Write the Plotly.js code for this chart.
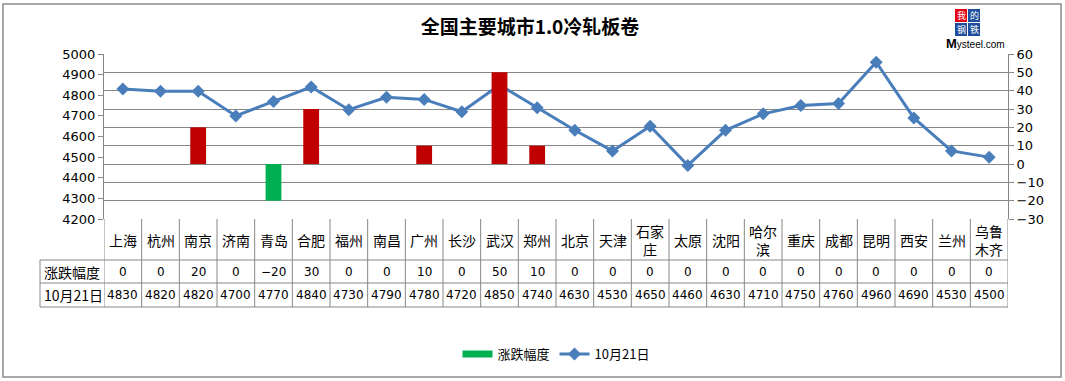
<!DOCTYPE html>
<html><head><meta charset="utf-8">
<script src="https://cdn.plot.ly/plotly-3.0.1.min.js"></script>
<style>html,body{margin:0;padding:0;background:#fff;}#chart{width:1065px;height:381px;}</style>
</head><body><div id="chart"></div>
<script>
const cities = ["上海","杭州","南京","济南","青岛","合肥","福州","南昌","广州","长沙","武汉","郑州","北京","天津","石家<br>庄","太原","沈阳","哈尔<br>滨","重庆","成都","昆明","西安","兰州","乌鲁<br>木齐"];
const changes = [0,0,20,0,-20,30,0,0,10,0,50,10,0,0,0,0,0,0,0,0,0,0,0,0];
const prices = [4830,4820,4820,4700,4770,4840,4730,4790,4780,4720,4850,4740,4630,4530,4650,4460,4630,4710,4750,4760,4960,4690,4530,4500];
const rowLabels = ["涨跌幅度","10月21日"];
const seriesNames = ["涨跌幅度","10月21日"];
const chartTitle = "全国主要城市1.0冷轧板卷";

const W=1065,H=381,L=104,R=1008,T=54,B=219;
const xp = p => (p-L)/(R-L);
const yp = p => (B-p)/(B-T);
const CJK = '"Noto Sans CJK SC", "Noto Sans", sans-serif';
const GRID = '#878787';
const RED='#C00000', GREEN='#00B050', BLUE='#4A7EBB';

const barColors = changes.map(v => v>0 ? RED : GREEN);
const idx = cities.map((c,i)=>i);

const traces = [
  {type:'bar', x:idx, y:changes, yaxis:'y2', name:seriesNames[0], showlegend:false,
   marker:{color:barColors}, width:0.42, hoverinfo:'skip'},
  {type:'scatter', mode:'lines', x:[null], y:[null], yaxis:'y2', name:seriesNames[0],
   line:{color:GREEN, width:7}},
  {type:'scatter', mode:'lines+markers', x:idx, y:prices, yaxis:'y', name:seriesNames[1],
   line:{color:BLUE, width:3}, marker:{symbol:'diamond', size:10, color:BLUE}}
];

const shapes = [];
const annotations = [];
for (let i=0;i<=cities.length;i++){
  shapes.push({type:'line', xref:'x', yref:'paper', x0:i-0.5, x1:i-0.5, y0:0, y1:yp(307), line:{color:GRID,width:1}});
}
[260,283,307].forEach(py=>{
  shapes.push({type:'line', xref:'paper', yref:'paper', x0:xp(40), x1:1, y0:yp(py), y1:yp(py), line:{color:GRID,width:1}});
});
shapes.push({type:'line', xref:'paper', yref:'paper', x0:xp(40), x1:xp(40), y0:yp(260), y1:yp(307), line:{color:GRID,width:1}});
shapes.push({type:'rect', xref:'paper', yref:'paper', x0:xp(3), x1:xp(1061), y0:yp(4), y1:yp(377), line:{color:'#8c8c8c',width:1.5}});

cities.forEach((c,i)=>{
  annotations.push({xref:'x', yref:'paper', x:i, y:yp(240), text:c, showarrow:false,
    font:{family:CJK, size:14, color:'#000'}, yanchor:'middle'});
  annotations.push({xref:'x', yref:'paper', x:i, y:yp(272), text:String(changes[i]).replace('-','−'), showarrow:false,
    font:{family:'"DejaVu Sans", sans-serif', size:12, color:'#000'}, yanchor:'middle'});
  annotations.push({xref:'x', yref:'paper', x:i, y:yp(295), text:String(prices[i]), showarrow:false,
    font:{family:'"DejaVu Sans", sans-serif', size:12, color:'#000'}, yanchor:'middle'});
});
rowLabels.forEach((t,k)=>{
  annotations.push({xref:'paper', yref:'paper', x:xp(42), y:yp(k===0?272:295), text:t, showarrow:false, xanchor:'left',
    font:{family:CJK, size:14, color:'#000'}, yanchor:'middle'});
});
// logo: colored cell backgrounds as shapes, characters as annotations
const logo = [["我",955,9,'#E60012'],["的",968,9,'#1F4E9C'],["钢",955,23,'#1F4E9C'],["铁",968,23,'#1F4E9C']];
logo.forEach(([t,x,y,bg])=>{
  shapes.push({type:'rect', xref:'paper', yref:'paper', x0:xp(x), x1:xp(x+12), y0:yp(y), y1:yp(y+13), fillcolor:bg, line:{width:0}});
  annotations.push({xref:'paper', yref:'paper', x:xp(x+6), y:yp(y+6.5), xanchor:'center', yanchor:'middle', text:t, showarrow:false,
    borderpad:0, font:{family:CJK, size:9, color:'#fff'}});
});
annotations.push({xref:'paper', yref:'paper', x:xp(944), y:yp(43), xanchor:'left', yanchor:'middle', showarrow:false,
  text:'<b>M</b><span style="font-size:10px">ysteel.com</span>', font:{family:'"Liberation Sans", Arial, sans-serif', size:13, color:'#000'}});

const layout = {
  width:W, height:H, margin:{l:L, r:W-R, t:T, b:H-B},
  paper_bgcolor:'#fff', plot_bgcolor:'rgba(0,0,0,0)',
  title:{text:'<b>'+chartTitle+'</b>', font:{family:CJK, size:19, color:'#000'}, x:530/W, xanchor:'center', y:1-27/H, yanchor:'middle', xref:'container', yref:'container'},
  showlegend:true,
  legend:{orientation:'h', x:0.5, xanchor:'center', y:yp(354), yanchor:'middle', font:{family:CJK, size:13, color:'#000'}, bgcolor:'rgba(0,0,0,0)'},
  xaxis:{type:'linear', range:[-0.5, cities.length-0.5], showgrid:false, zeroline:false, showticklabels:false, ticks:'', showline:false, fixedrange:true},
  yaxis:{range:[4200,5000], dtick:100, tick0:4200, showgrid:false, zeroline:false, showline:true, linecolor:GRID, linewidth:1,
    ticks:'outside', ticklen:5, tickcolor:GRID, tickfont:{family:'"DejaVu Sans", sans-serif', size:13, color:'#000'}},
  yaxis2:{range:[-30,60], dtick:10, tick0:-30, overlaying:'y', side:'right', showgrid:true, gridcolor:GRID, gridwidth:1, zeroline:false,
    showline:true, linecolor:GRID, linewidth:1, ticks:'outside', ticklen:5, tickcolor:GRID,
    tickfont:{family:'"DejaVu Sans", sans-serif', size:13, color:'#000'}},
  shapes:shapes, annotations:annotations
};
Plotly.newPlot('chart', traces, layout, {displayModeBar:false, staticPlot:true});
</script></body></html>
